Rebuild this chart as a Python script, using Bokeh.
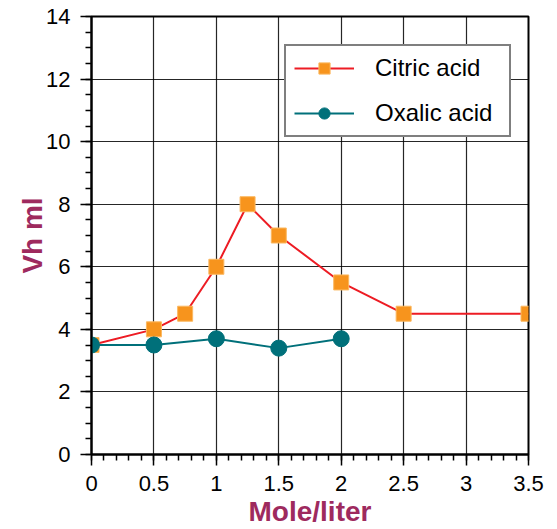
from bokeh.plotting import figure
from bokeh.models import Range1d, SingleIntervalTicker, Legend, LegendItem
from bokeh.embed import file_html
from bokeh.resources import INLINE

# Data
citric_x = [0, 0.5, 0.75, 1, 1.25, 1.5, 2, 2.5, 3.5]
citric_y = [3.5, 4, 4.5, 6, 8, 7, 5.5, 4.5, 4.5]
oxalic_x = [0, 0.5, 1, 1.5, 2]
oxalic_y = [3.5, 3.5, 3.7, 3.4, 3.7]
x_ticks = [0, 0.5, 1, 1.5, 2, 2.5, 3, 3.5]
x_tick_labels = ["0", "0.5", "1", "1.5", "2", "2.5", "3", "3.5"]
y_ticks = [0, 2, 4, 6, 8, 10, 12, 14]
y_tick_labels = ["0", "2", "4", "6", "8", "10", "12", "14"]
x_title = "Mole/liter"
y_title = "Vh ml"

FONT = "Liberation Sans"
LABEL_COLOR = "#9E2A5E"

p = figure(width=557, height=529, output_backend="svg", toolbar_location=None,
           x_range=Range1d(0, 3.5), y_range=Range1d(0, 14),
           min_border_left=91, min_border_right=29, min_border_top=16, min_border_bottom=75)

p.outline_line_color = "black"
p.outline_line_width = 2
p.background_fill_color = "white"
p.border_fill_color = "white"

p.xaxis.ticker = SingleIntervalTicker(interval=0.5, num_minor_ticks=5)
p.yaxis.ticker = SingleIntervalTicker(interval=2, num_minor_ticks=4)
p.xaxis.major_label_overrides = {t: l for t, l in zip(x_ticks, x_tick_labels)}
p.yaxis.major_label_overrides = {t: l for t, l in zip(y_ticks, y_tick_labels)}

for ax in (p.xaxis, p.yaxis):
    ax.axis_line_width = 2
    ax.axis_line_color = "black"
    ax.major_tick_in = 0
    ax.major_tick_out = 11
    ax.minor_tick_in = 0
    ax.minor_tick_out = 6
    ax.major_tick_line_width = 1.5
    ax.minor_tick_line_width = 1.5
    ax.major_tick_line_color = "black"
    ax.minor_tick_line_color = "black"
    ax.major_label_text_font = FONT
    ax.major_label_text_font_size = "22px"
    ax.major_label_text_color = "black"
    ax.axis_label_text_font = FONT
    ax.axis_label_text_font_size = "28px"
    ax.axis_label_text_font_style = "bold"
    ax.axis_label_text_color = LABEL_COLOR

p.xaxis.axis_label = x_title
p.yaxis.axis_label = y_title
p.xaxis.major_label_standoff = 10
p.yaxis.major_label_standoff = 10
p.xaxis.axis_label_standoff = 2
p.yaxis.axis_label_standoff = -5
p.xaxis.axis_label_text_baseline = "middle"

p.xgrid.grid_line_color = "black"
p.ygrid.grid_line_color = "black"
p.xgrid.grid_line_alpha = 0.85
p.ygrid.grid_line_alpha = 0.85
p.xgrid.grid_line_width = 1.2
p.ygrid.grid_line_width = 1.2

c_line = p.line(citric_x, citric_y, line_color="#ED1C24", line_width=2)
c_mark = p.scatter(citric_x, citric_y, marker="square", size=15,
                   fill_color="#F7941D", line_color="#FBB860", line_width=1)
o_line = p.line(oxalic_x, oxalic_y, line_color="#00707A", line_width=2)
o_mark = p.scatter(oxalic_x, oxalic_y, marker="circle", size=16,
                   fill_color="#00707A", line_color="#00707A", line_width=1)

legend = Legend(items=[LegendItem(label="Citric acid", renderers=[c_line, c_mark]),
                       LegendItem(label="Oxalic acid", renderers=[o_line, o_mark])],
                location=(193, 317))
legend.border_line_color = "black"
legend.border_line_width = 2
legend.background_fill_color = "white"
legend.background_fill_alpha = 1
legend.padding = 8
legend.spacing = 17
legend.glyph_width = 60
legend.glyph_height = 28
legend.label_height = 28
legend.label_standoff = 21
legend.label_width = 126
legend.label_text_font = FONT
legend.label_text_font_size = "24px"
legend.label_text_color = "black"
legend.margin = 0
p.add_layout(legend)

open("out.html", "w").write(file_html(p, INLINE))
